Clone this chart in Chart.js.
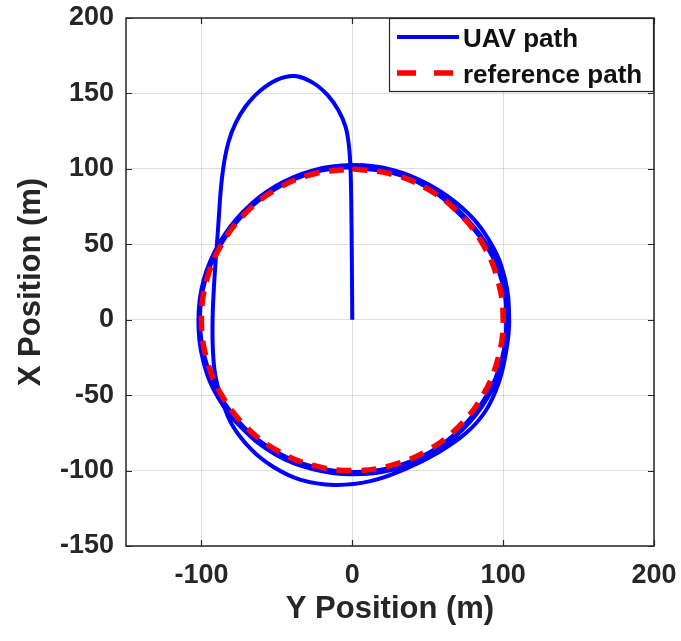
<!DOCTYPE html>
<html>
<head>
<meta charset="utf-8">
<script src="https://cdn.jsdelivr.net/npm/chart.js@4/dist/chart.umd.min.js"></script>
<style>
  html, body { margin: 0; padding: 0; background: #ffffff; }
  #c { display: block; }
</style>
</head>
<body>
<canvas id="c" width="681" height="641"></canvas>
<script>
// UAV trajectory: horizontal = Y position (m), vertical = X position (m)
const uavY = [0, -0.3, -0.7, -1.2, -2.2, -4.5, -9.3, -16.5, -26, -38, -50, -62, -71, -77.5, -82, -85, -87, -88.2, -89.2, -90.5, -91.8, -92.6, -92.4, -90.8, -86.8, -79.5, -67, -52.5, -34.7, -12, 12, 35, 57, 75, 88, 97, 102, 104,
  101, 90.5, 73, 51, 26, 0, -26, -51, -72, -88, -98.5, -102, -99, -89, -72.5, -51.5, -26.5, 0, 26.5, 51.5, 73, 89.5, 100, 103,
  100.5, 88.5, 71.5, 51, 26, 0, -26, -50.5, -71, -87, -97.5, -101, -97.5, -87.5, -71.5, -50.5, -26, 0, 26, 51, 72, 88.5, 99, 102, 99, 88, 70.5, 50, 25.5, 0];
const uavX = [0, 40, 80, 100, 115, 128, 139, 149, 157, 161.5, 159, 151, 141, 130, 118, 104, 88, 72, 57, 40, 20, 0, -20, -37, -52, -70, -86, -97.5, -106, -109.5, -107, -99, -88, -75.5, -61, -42, -21, 0,
  28, 53, 74, 89.5, 99.5, 102.5, 99, 88.5, 72, 51, 26.5, 0, -26.5, -51.5, -72.5, -89, -99, -102.5, -99.5, -89.5, -73, -52, -27, 0,
  27, 51, 71.5, 88, 98, 101, 97.5, 87, 71, 50, 26, 0, -26, -50.5, -71.5, -87.5, -97.5, -101, -98, -88, -72, -51, -26.5, 0, 26, 50, 70.5, 87.5, 97.5, 100.5];

// Reference circle of radius 100 m
const refY = [0, 25.9, 50, 70.7, 86.6, 96.6, 100, 96.6, 86.6, 70.7, 50, 25.9, 0, -25.9, -50, -70.7, -86.6, -96.6, -100, -96.6, -86.6, -70.7, -50, -25.9, 0];
const refX = [100, 96.6, 86.6, 70.7, 50, 25.9, 0, -25.9, -50, -70.7, -86.6, -96.6, -100, -96.6, -86.6, -70.7, -50, -25.9, 0, 25.9, 50, 70.7, 86.6, 96.6, 100];

const xTickValues = [-100, 0, 100, 200];
const yTickValues = [-150, -100, -50, 0, 50, 100, 150, 200];
const seriesNames = ['UAV path', 'reference path'];
const axisTitles = ['Y Position (m)', 'X Position (m)'];

const toPoints = (hs, vs) => hs.map((h, i) => ({ x: h, y: vs[i] }));

const INK = '#262626';
const FONT = "'Liberation Sans', Arial, Helvetica, sans-serif";

// Axes box, inward tick marks and the legend box
const frame = {
  id: 'frame',
  afterDatasetsDraw(chart) {
    const { ctx, chartArea: a, scales } = chart;
    ctx.save();
    ctx.strokeStyle = INK;
    ctx.lineWidth = 1.2;
    const len = 6;
    ctx.beginPath();
    xTickValues.forEach(v => {
      const px = Math.round(scales.x.getPixelForValue(v)) + 0.5;
      ctx.moveTo(px, a.bottom); ctx.lineTo(px, a.bottom - len);
      ctx.moveTo(px, a.top); ctx.lineTo(px, a.top + len);
    });
    yTickValues.forEach(v => {
      const py = Math.round(scales.y.getPixelForValue(v)) + 0.5;
      ctx.moveTo(a.left, py); ctx.lineTo(a.left + len, py);
      ctx.moveTo(a.right, py); ctx.lineTo(a.right - len, py);
    });
    ctx.stroke();
    ctx.lineWidth = 1.5;
    ctx.strokeRect(a.left, a.top, a.right - a.left, a.bottom - a.top);

    // legend
    const lx = 389, ly = a.top, lw = a.right - lx, lh = 74;
    ctx.fillStyle = '#ffffff';
    ctx.fillRect(lx, ly, lw, lh);
    ctx.lineWidth = 1.2;
    ctx.strokeRect(lx + 0.5, ly + 0.5, lw - 1, lh - 1);

    const rows = [
      { y: ly + 19, color: '#0000ff', width: 4, dash: [] },
      { y: ly + 55, color: '#ff0000', width: 5.5, dash: [19, 18] }
    ];
    ctx.font = 'bold 26px ' + FONT;
    ctx.textBaseline = 'middle';
    ctx.textAlign = 'left';
    rows.forEach((r, i) => {
      ctx.beginPath();
      ctx.setLineDash(r.dash);
      ctx.strokeStyle = r.color;
      ctx.lineWidth = r.width;
      ctx.moveTo(397, r.y);
      ctx.lineTo(459, r.y);
      ctx.stroke();
      ctx.setLineDash([]);
      ctx.fillStyle = '#111111';
      ctx.fillText(seriesNames[i], 463, r.y + 3);
    });
    ctx.restore();
  }
};

new Chart(document.getElementById('c'), {
  type: 'scatter',
  data: {
    datasets: [
      {
        label: seriesNames[1],
        data: toPoints(refY, refX),
        showLine: true,
        borderColor: '#ff0000',
        borderWidth: 5.5,
        borderDash: [15, 10],
        pointRadius: 0,
        tension: 0.4,
        fill: false,
        order: 0
      },
      {
        label: seriesNames[0],
        data: toPoints(uavY, uavX),
        showLine: true,
        borderColor: '#0000ff',
        borderWidth: 4,
        pointRadius: 0,
        tension: 0.4,
        fill: false,
        order: 1
      }
    ]
  },
  options: {
    responsive: false,
    animation: false,
    devicePixelRatio: 1,
    layout: { padding: { top: 18, right: 27, left: 0, bottom: 0 } },
    plugins: {
      legend: { display: false },
      tooltip: { enabled: false }
    },
    scales: {
      x: {
        type: 'linear',
        min: -150,
        max: 200,
        afterFit: s => { s.height = 95; s.paddingLeft = 0; s.paddingRight = 0; },
        afterBuildTicks: s => { s.ticks = xTickValues.map(v => ({ value: v })); },
        grid: { color: 'rgba(38,38,38,0.15)', lineWidth: 1, drawTicks: false },
        border: { display: false },
        ticks: { color: INK, font: { family: FONT, size: 27, weight: 'bold' }, padding: 13, maxRotation: 0 },
        title: { display: true, text: axisTitles[0], color: INK, font: { family: FONT, size: 31, weight: 'bold' }, padding: { top: 0, bottom: 13 } }
      },
      y: {
        type: 'linear',
        min: -150,
        max: 200,
        afterFit: s => { s.width = 126; s.paddingTop = 0; s.paddingBottom = 0; },
        afterBuildTicks: s => { s.ticks = yTickValues.map(v => ({ value: v })); },
        grid: { color: 'rgba(38,38,38,0.15)', lineWidth: 1, drawTicks: false },
        border: { display: false },
        ticks: { color: INK, font: { family: FONT, size: 27, weight: 'bold' }, padding: 12 },
        title: { display: true, text: axisTitles[1], color: INK, font: { family: FONT, size: 31, weight: 'bold' }, padding: { top: 13, bottom: 0 } }
      }
    }
  },
  plugins: [frame]
});
</script>
</body>
</html>
